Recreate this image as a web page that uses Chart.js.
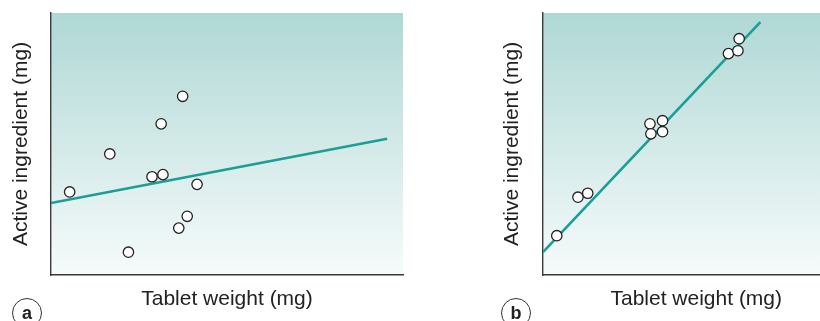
<!DOCTYPE html>
<html>
<head>
<meta charset="utf-8">
<script src="https://cdn.jsdelivr.net/npm/chart.js@4"></script>
<style>
  html, body { margin: 0; padding: 0; background: #fff; overflow: hidden; }
  body { width: 820px; height: 321px; position: relative; }
  canvas { position: absolute; top: 0; }
  #chartA { left: 0; }
  #chartB { left: 410px; }
  .panel-label {
    position: absolute;
    width: 30px; height: 30px;
    border: 1px solid #333;
    border-radius: 50%;
    box-sizing: border-box;
    font: bold 18px "Liberation Sans", Arial, sans-serif;
    color: #222;
    text-align: center;
    line-height: 28px;
  }
</style>
</head>
<body>
<canvas id="chartA" width="410" height="321"></canvas>
<canvas id="chartB" width="446" height="321"></canvas>
<div class="panel-label" style="left:12px; top:298px;">a</div>
<div class="panel-label" style="left:501px; top:298px;">b</div>
<script>
// axis titles (no numbers on the axes)
const xTitle = 'Tablet weight (mg)';
const yTitle = 'Active ingredient (mg)';

// panel a - poor correlation (arbitrary units 0-100)
const weightA = [5.3, 16.7, 22.0, 28.7, 31.8, 31.3, 37.4, 41.5, 38.7, 36.3];
const activeA = [31.7, 46.2, 8.7, 37.5, 38.3, 57.7, 68.2, 34.6, 22.4, 17.9];
const fitXA = [0, 95.5];
const fitYA = [27.5, 52.0];

// panel b - good correlation
const weightB = [4.5, 11.4, 14.6, 34.9, 35.2, 39.0, 39.0, 60.5, 63.6, 64.0];
const activeB = [15.0, 29.7, 31.2, 57.7, 53.9, 58.9, 54.7, 84.5, 85.6, 90.2];
const fitXB = [0, 70.9];
const fitYB = [8.7, 96.5];

const teal = '#1a9e96';
const font = { family: '"Liberation Sans", Arial, sans-serif', size: 21 };

const gradientBg = {
  id: 'gradientBg',
  beforeDraw(chart) {
    const a = chart.chartArea;
    const ctx = chart.ctx;
    const g = ctx.createLinearGradient(0, a.top, 0, a.bottom);
    g.addColorStop(0, '#afd8d5');
    g.addColorStop(1, '#f6fbfb');
    ctx.save();
    ctx.fillStyle = g;
    ctx.fillRect(a.left, a.top, a.right - a.left, a.bottom - a.top);
    ctx.restore();
  }
};

function toPoints(xs, ys) {
  return xs.map((x, i) => ({ x: x, y: ys[i] }));
}

function makeChart(id, xs, ys, fx, fy, yWidth, yTitlePad, rightPad) {
  return new Chart(document.getElementById(id), {
    type: 'scatter',
    data: {
      datasets: [
        {
          data: toPoints(xs, ys),
          pointRadius: 5.2,
          pointBackgroundColor: '#ffffff',
          pointBorderColor: '#222222',
          pointBorderWidth: 1.3,
          order: 0
        },
        {
          type: 'line',
          data: toPoints(fx, fy),
          borderColor: teal,
          borderWidth: 2.6,
          pointRadius: 0,
          fill: false,
          order: 1
        }
      ]
    },
    options: {
      responsive: false,
      animation: false,
      events: [],
      layout: { padding: { top: 13, right: rightPad, left: 0, bottom: 0 } },
      plugins: { legend: { display: false }, tooltip: { enabled: false } },
      scales: {
        x: {
          type: 'linear', min: 0, max: 100,
          grid: { display: false },
          ticks: { display: false },
          border: { display: true, color: '#3a3a3a', width: 1.4 },
          title: { display: true, text: xTitle, color: '#222', font: font, padding: { top: 0, bottom: 9 } },
          afterFit(scale) { scale.height = 46; }
        },
        y: {
          type: 'linear', min: 0, max: 100,
          grid: { display: false },
          ticks: { display: false },
          border: { display: true, color: '#3a3a3a', width: 1.4 },
          title: { display: true, text: yTitle, color: '#222', font: font, padding: { top: yTitlePad, bottom: 0 } },
          afterFit(scale) { scale.width = yWidth; }
        }
      }
    },
    plugins: [gradientBg]
  });
}

makeChart('chartA', weightA, activeA, fitXA, fitYA, 51, 8.4, 7);
makeChart('chartB', weightB, activeB, fitXB, fitYB, 133, 90.1, 1);
</script>
</body>
</html>
